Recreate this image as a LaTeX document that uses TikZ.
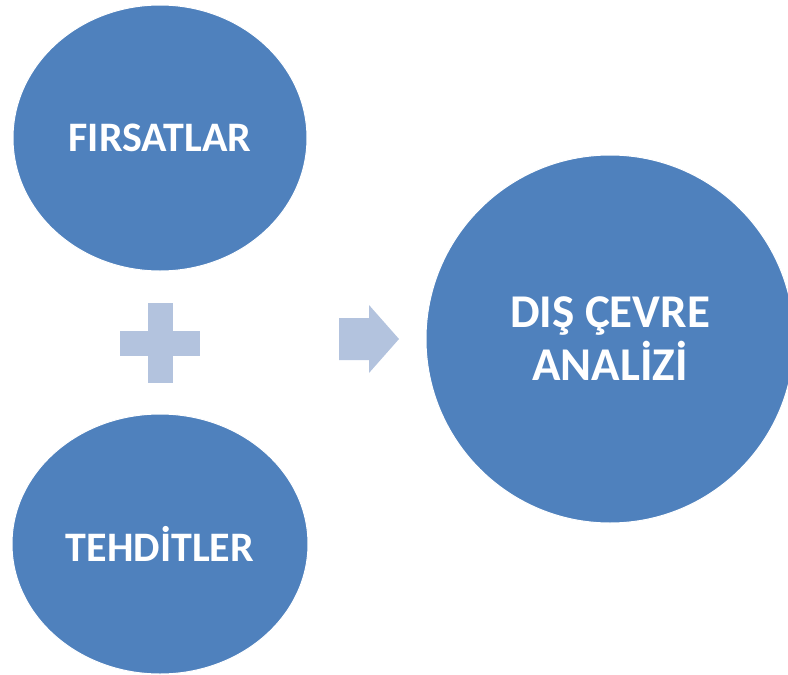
\documentclass[tikz,border=0pt]{standalone}
\usepackage{fontspec}
\setmainfont{Carlito}
\definecolor{darkblue}{RGB}{79,129,189}
\definecolor{lightblue}{RGB}{179,195,222}
\tikzset{
  bubble/.style={ellipse, fill=darkblue, draw=white, line width=1pt, text=white, font=\bfseries\fontsize{42}{53}\selectfont, align=center, inner sep=0pt},
  sign/.style={fill=lightblue, draw=none}
}
\usetikzlibrary{shapes.geometric}
\begin{document}
\begin{tikzpicture}[x=1pt,y=-1pt]
\useasboundingbox (0,0) rectangle (788,675);
\node[bubble, minimum width=294pt, minimum height=266pt] (fir) at (160,138) {FIRSATLAR};
\node[bubble, minimum width=296pt, minimum height=260pt] (teh) at (160,544) {TEHDİTLER};
\node[bubble, minimum width=368pt, minimum height=368pt, font=\bfseries\fontsize{47}{53}\selectfont] (dis) at (610,339) {DIŞ ÇEVRE\\ANALİZİ};
\coordinate (plus) at (160.5,343);
\fill[sign] (148,303) rectangle (173,383);
\fill[sign] (120,331) rectangle (200,356);
\coordinate (arr) at (369,339);
\fill[sign] (339,318) -- (369,318) -- (369,305) -- (399,339) -- (369,373) -- (369,360) -- (339,360) -- cycle;
\end{tikzpicture}
\end{document}
